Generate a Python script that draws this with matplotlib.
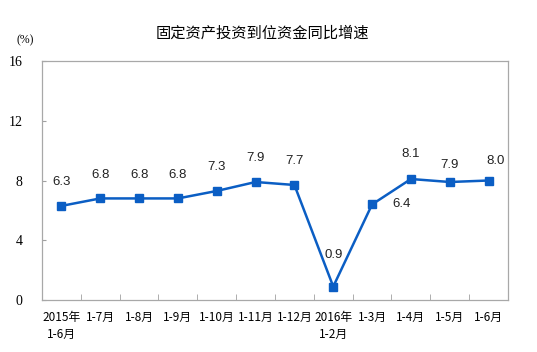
import numpy as np
import matplotlib
matplotlib.use("Agg")
import matplotlib.pyplot as plt

plt.rcParams["font.family"] = ["Noto Sans CJK SC", "DejaVu Sans"]

categories = ["2015年\n1-6月", "1-7月", "1-8月", "1-9月", "1-10月", "1-11月",
              "1-12月", "2016年\n1-2月", "1-3月", "1-4月", "1-5月", "1-6月"]
growth = [6.3, 6.8, 6.8, 6.8, 7.3, 7.9, 7.7, 0.9, 6.4, 8.1, 7.9, 8.0]
y_ticks = [0, 4, 8, 12, 16]

# label offsets in points (dx, dy) relative to each marker
label_offsets = [(0, 17)] * 7 + [(0, 23), (21, 0), (0, 18), (0, 12), (5, 14)]

fig = plt.figure(figsize=(5.37, 3.52), dpi=100)
ax = fig.add_axes([0.0782, 0.1477, 0.8678, 0.679])

x = np.arange(len(categories))
color = "#0b5ec4"
ax.plot(x, growth, color=color, lw=1.8, marker="s", ms=6, zorder=3)

for xi, v, (dx, dy) in zip(x, growth, label_offsets):
    ax.annotate(f"{v:.1f}", (xi, v), xytext=(dx, dy), textcoords="offset points",
                ha="center", va="center", fontsize=9.5, family="Liberation Sans",
                color="#222222")

ax.set_xlim(-0.5, len(categories) - 0.5)
ax.set_ylim(0, 16)
ax.set_yticks(y_ticks)
ax.set_yticklabels([str(t) for t in y_ticks], family="Liberation Serif", fontsize=10)
ax.set_xticks(x)
ax.set_xticklabels(categories, fontsize=8.5, linespacing=1.35, va="top")
ax.set_xticks(np.arange(len(categories) + 1) - 0.5, minor=True)
ax.tick_params(axis="x", which="major", length=0, pad=8)
ax.tick_params(axis="x", which="minor", direction="in", length=4, color="#a0a0a0")
ax.tick_params(axis="y", direction="in", length=3, color="#a0a0a0", pad=14)
for s in ax.spines.values():
    s.set_color("#a8a8a8")
    s.set_linewidth(0.9)

fig.text(262 / 537, 1 - 33 / 352, "固定资产投资到位资金同比增速", ha="center", va="center",
         fontsize=11)
fig.text(25 / 537, 1 - 40 / 352, "(%)", ha="center", va="center", fontsize=8.5,
         family="Liberation Serif")

fig.savefig("out.png", dpi=100)
